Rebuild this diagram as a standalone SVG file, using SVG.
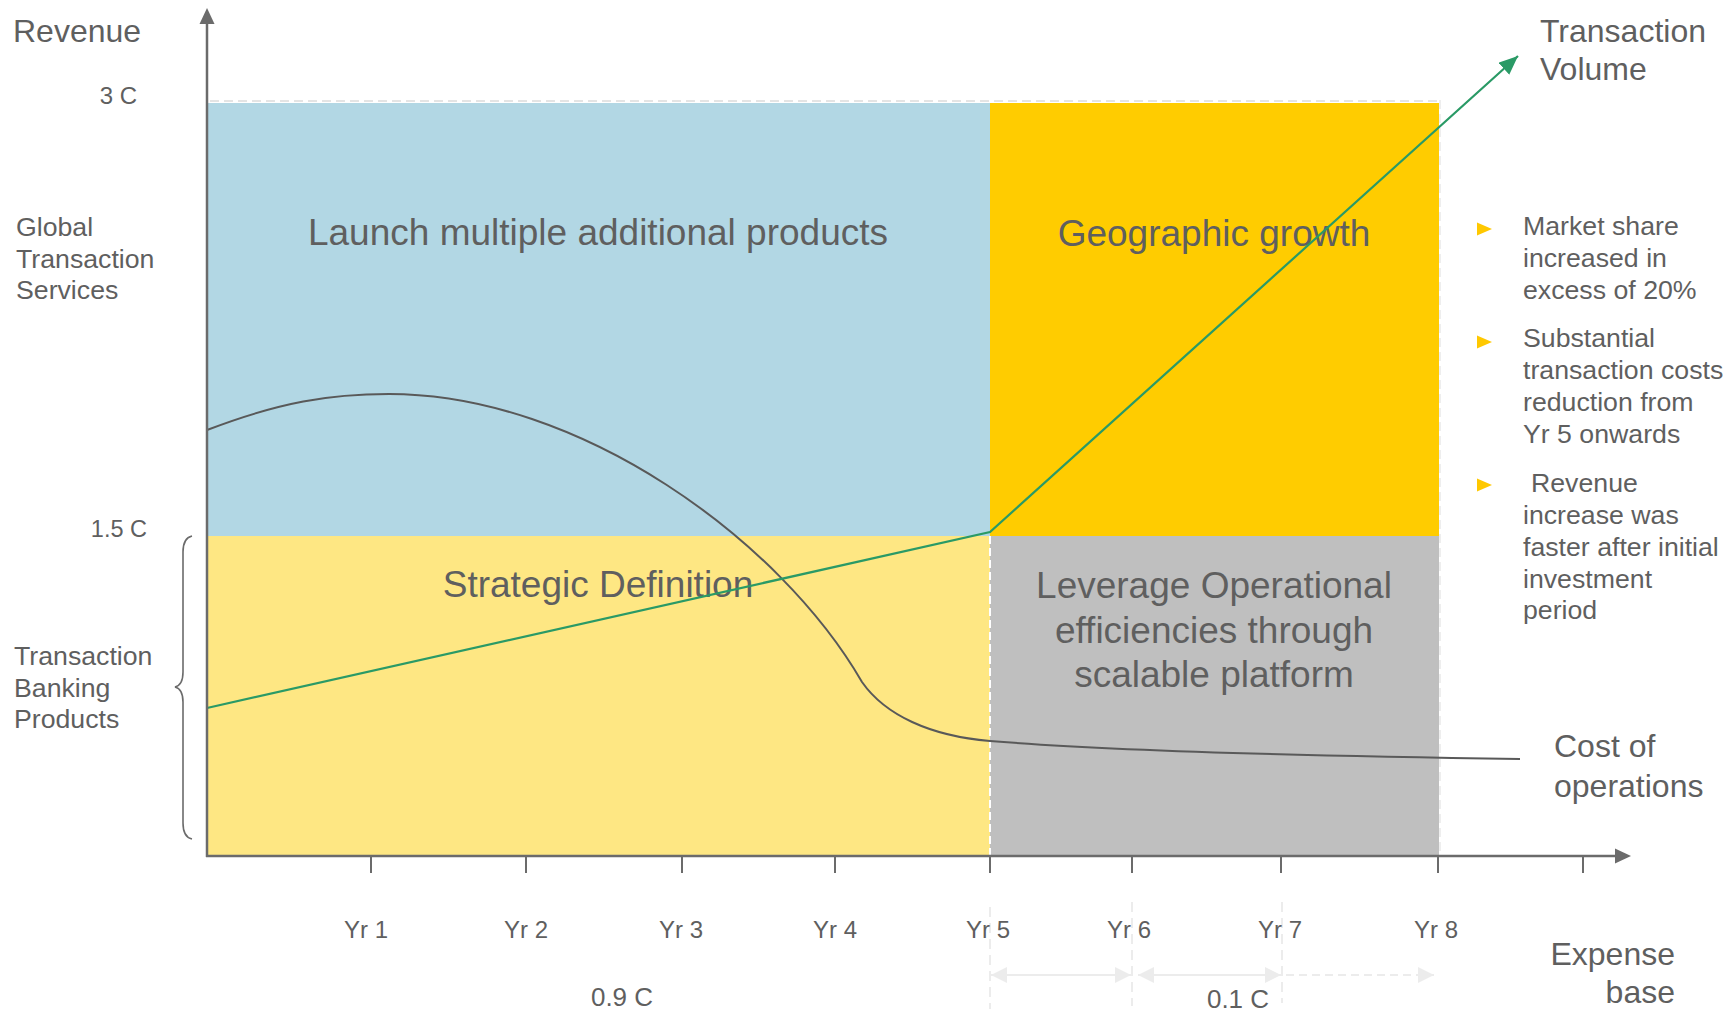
<svg xmlns="http://www.w3.org/2000/svg" width="1733" height="1011" viewBox="0 0 1733 1011">
<defs>
<style>
text{font-family:"Liberation Sans",Arial,sans-serif;fill:#5f5f5f}
.big{font-size:32px}
.reg{font-size:37px;text-anchor:middle}
.lbl{font-size:26.7px}
.yr{font-size:24px;text-anchor:middle}
.axis{stroke:#6b6b6b;stroke-width:2.5;fill:none}
.tick{stroke:#6b6b6b;stroke-width:2;fill:none}
.cost{stroke:#595959;stroke-width:2;fill:none}
.vol{stroke:#2a9a66;stroke-width:2.2;fill:none}
.faint{stroke:#ececec;stroke-width:2;fill:none}
.bul{fill:#ffc800}
</style>
<marker id="greenHead" markerUnits="userSpaceOnUse" markerWidth="20" markerHeight="18" refX="19" refY="8" orient="auto">
<path d="M0,0 L19,8 L0,16 z" fill="#2a9a66"/>
</marker>
<marker id="faintHead" markerUnits="userSpaceOnUse" markerWidth="18" markerHeight="18" refX="16" refY="8" orient="auto-start-reverse">
<path d="M0,0 L16,8 L0,16 z" fill="#ececec"/>
</marker>
</defs>
<rect width="1733" height="1011" fill="#ffffff"/>

<g id="regions">
<g id="region-launch">
<rect x="207" y="103" width="783" height="433" fill="#b2d7e4"/>
<text class="reg" x="598" y="245">Launch multiple additional products</text>
</g>
<g id="region-geographic">
<rect x="990" y="103" width="449" height="433" fill="#ffcc00"/>
<text class="reg" x="1214" y="246">Geographic growth</text>
</g>
<g id="region-strategic">
<rect x="207" y="536" width="783" height="320" fill="#fee783"/>
<text class="reg" x="598" y="597">Strategic Definition</text>
</g>
<g id="region-leverage">
<rect x="990" y="536" width="449" height="320" fill="#bfbfbf"/>
<text class="reg" x="1214" y="598">Leverage Operational</text>
<text class="reg" x="1214" y="643">efficiencies through</text>
<text class="reg" x="1214" y="687">scalable platform</text>
</g>
<line x1="210" y1="101" x2="1438" y2="101" stroke="#e4e4e4" stroke-width="2" stroke-dasharray="9 5"/>
<line x1="1440" y1="100" x2="1440" y2="856" stroke="#eeeeee" stroke-width="2" stroke-dasharray="9 5"/>
<line x1="990" y1="536" x2="990" y2="856" stroke="#ffffff" stroke-width="2" stroke-dasharray="8 4"/>
</g>

<g id="connectors">
<path id="cost-curve" class="cost" d="M207,430 C280,402 330,394 389,394 C580,394 780,540 862,682 C885,715 930,736 990,741 C1100,750 1300,756 1520,759"/>
<path id="volume-line" class="vol" d="M207,708 L990,532 L1518,56" marker-end="url(#greenHead)"/>
<line class="axis" x1="207" y1="857" x2="207" y2="22"/>
<polygon points="207,8 199.5,24 214.5,24" fill="#6b6b6b"/>
<line class="axis" x1="206" y1="856" x2="1617" y2="856"/>
<polygon points="1631,856 1615,848.5 1615,863.5" fill="#6b6b6b"/>
<g id="ticks">
<line class="tick" x1="371" y1="856" x2="371" y2="873"/>
<line class="tick" x1="526" y1="856" x2="526" y2="873"/>
<line class="tick" x1="682" y1="856" x2="682" y2="873"/>
<line class="tick" x1="835" y1="856" x2="835" y2="873"/>
<line class="tick" x1="990" y1="856" x2="990" y2="873"/>
<line class="tick" x1="1132" y1="856" x2="1132" y2="873"/>
<line class="tick" x1="1281" y1="856" x2="1281" y2="873"/>
<line class="tick" x1="1438" y1="856" x2="1438" y2="873"/>
<line class="tick" x1="1583" y1="856" x2="1583" y2="873"/>
</g>
<path id="brace" d="M192,536 Q183,538 183,552 L183,672 Q183,685 175,687 Q183,689 183,702 L183,823 Q183,837 192,839" stroke="#6b6b6b" stroke-width="1.6" fill="none"/>
<g id="expense-markers">
<line class="faint" x1="990" y1="907" x2="990" y2="1009" stroke-dasharray="10 6"/>
<line class="faint" x1="1132" y1="902" x2="1132" y2="1006" stroke-dasharray="10 6"/>
<line class="faint" x1="1282" y1="902" x2="1282" y2="1003" stroke-dasharray="10 6"/>
<line class="faint" x1="991" y1="975" x2="1131" y2="975" marker-start="url(#faintHead)" marker-end="url(#faintHead)"/>
<line class="faint" x1="1138" y1="975" x2="1281" y2="975" marker-start="url(#faintHead)" marker-end="url(#faintHead)"/>
<line class="faint" x1="1286" y1="975" x2="1434" y2="975" stroke-dasharray="8 5" marker-end="url(#faintHead)"/>
</g>
</g>

<g id="axis-labels">
<text class="big" x="13" y="42">Revenue</text>
<text x="137" y="104" text-anchor="end" style="font-size:24px">3 C</text>
<text x="147" y="537" text-anchor="end" style="font-size:23.5px">1.5 C</text>
<text class="lbl" x="16" y="236">Global</text>
<text class="lbl" x="16" y="268">Transaction</text>
<text class="lbl" x="16" y="299">Services</text>
<text class="lbl" x="14" y="665">Transaction</text>
<text class="lbl" x="14" y="697">Banking</text>
<text class="lbl" x="14" y="728">Products</text>
<text class="big" x="1540" y="42">Transaction</text>
<text class="big" x="1540" y="80">Volume</text>
<text class="big" x="1554" y="757">Cost of</text>
<text class="big" x="1554" y="797">operations</text>
<text class="big" x="1675" y="965" text-anchor="end">Expense</text>
<text class="big" x="1675" y="1003" text-anchor="end">base</text>
<text class="yr" x="366" y="938">Yr 1</text>
<text class="yr" x="526" y="938">Yr 2</text>
<text class="yr" x="681" y="938">Yr 3</text>
<text class="yr" x="835" y="938">Yr 4</text>
<text class="yr" x="988" y="938">Yr 5</text>
<text class="yr" x="1129" y="938">Yr 6</text>
<text class="yr" x="1280" y="938">Yr 7</text>
<text class="yr" x="1436" y="938">Yr 8</text>
<text class="yr" x="622" y="1006" style="font-size:26px">0.9 C</text>
<text class="yr" x="1238" y="1008" style="font-size:26px">0.1 C</text>
</g>

<g id="bullets">
<g id="bullet-1">
<polygon class="bul" points="1477,222.5 1492,229 1477,235.5"/>
<text class="lbl" x="1523" y="235">Market share</text>
<text class="lbl" x="1523" y="267">increased in</text>
<text class="lbl" x="1523" y="299">excess of 20%</text>
</g>
<g id="bullet-2">
<polygon class="bul" points="1477,335.5 1492,342 1477,348.5"/>
<text class="lbl" x="1523" y="347">Substantial</text>
<text class="lbl" x="1523" y="379">transaction costs</text>
<text class="lbl" x="1523" y="411">reduction from</text>
<text class="lbl" x="1523" y="443">Yr 5 onwards</text>
</g>
<g id="bullet-3">
<polygon class="bul" points="1477,478.5 1492,485 1477,491.5"/>
<text class="lbl" x="1531" y="492">Revenue</text>
<text class="lbl" x="1523" y="524">increase was</text>
<text class="lbl" x="1523" y="556">faster after initial</text>
<text class="lbl" x="1523" y="588">investment</text>
<text class="lbl" x="1523" y="619">period</text>
</g>
</g>
</svg>
